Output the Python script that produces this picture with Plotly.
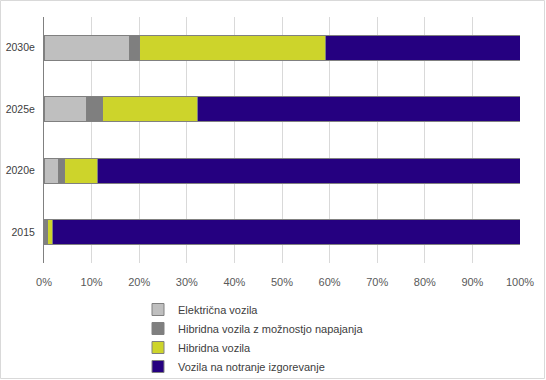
import plotly.graph_objects as go

categories = ["2015", "2020e", "2025e", "2030e"]
series_names = ["Električna vozila", "Hibridna vozila z možnostjo napajanja", "Hibridna vozila", "Vozila na notranje izgorevanje"]
electric = [0.4, 3.1, 9.0, 18.0]
phev = [0.3, 1.2, 3.2, 2.1]
hybrid = [1.0, 6.9, 20.0, 39.0]
ice = [98.3, 88.8, 67.8, 40.9]
colors = ["#BFBFBF", "#7F7F7F", "#CDD42B", "#250080"]
tick_vals = [0, 10, 20, 30, 40, 50, 60, 70, 80, 90, 100]
tick_text = [f"{v}%" for v in tick_vals]

fig = go.Figure()
for name, vals, col in zip(series_names, [electric, phev, hybrid, ice], colors):
    fig.add_trace(go.Bar(
        y=categories, x=vals, name=name, orientation="h",
        marker=dict(color=col, line=dict(color="#808080", width=1)),
        width=0.41,
    ))

L, R, T, B = 44, 26, 17, 117
W, H = 546, 380
pw, ph = W - L - R, H - T - B

fig.update_layout(
    width=W, height=H,
    barmode="stack",
    margin=dict(l=L, r=R, t=T, b=B, autoexpand=False),
    paper_bgcolor="white", plot_bgcolor="white",
    font=dict(family="Liberation Sans, Arial, sans-serif", size=11, color="#595959"),
    xaxis=dict(range=[0, 100], tickvals=tick_vals, ticktext=tick_text,
               showgrid=True, gridcolor="#D9D9D9", gridwidth=1, zeroline=False,
               showline=False, ticks="outside", ticklen=9, tickcolor="rgba(0,0,0,0)",
               fixedrange=True, automargin=False, tickfont=dict(color="#595959")),
    yaxis=dict(categoryorder="array", categoryarray=categories,
               showgrid=False, zeroline=False, showline=True, linecolor="#808080",
               linewidth=1, ticks="outside", ticklen=6, tickcolor="rgba(0,0,0,0)",
               fixedrange=True, automargin=False, tickfont=dict(color="#404040", size=10.5)),
    legend=dict(orientation="v", traceorder="normal", x=(138 - L) / pw, xanchor="left",
                y=(T + ph - 295) / ph, yanchor="top",
                font=dict(size=11, color="#404040"), itemwidth=30,
                tracegroupgap=0, bgcolor="rgba(0,0,0,0)"),
    showlegend=True,
    shapes=[dict(type="rect", xref="paper", yref="paper",
                 x0=(0.5 - L) / pw, x1=(W - 1.5 - L) / pw,
                 y0=(T + ph - (H - 1.5)) / ph, y1=(T + ph - 0.5) / ph,
                 line=dict(color="#D9D9D9", width=1), layer="below")],
)

fig.write_html("out.html", config={"displayModeBar": False},
               post_script="document.body.style.margin='0';document.body.style.overflow='hidden';")
